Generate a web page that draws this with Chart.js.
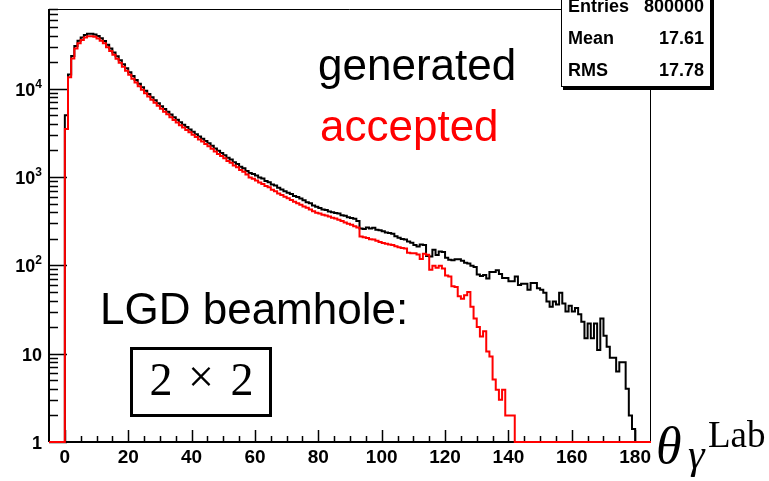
<!DOCTYPE html>
<html>
<head>
<meta charset="utf-8">
<script src="https://cdn.jsdelivr.net/npm/chart.js@4/dist/chart.umd.min.js"></script>
<style>
  html, body { margin: 0; padding: 0; background: #fff; }
</style>
</head>
<body>
<canvas id="thetaLab" width="769" height="481"></canvas>
<script>
// histogram: 1 degree bins starting at 0
const binLow = 0;
const binWidth = 1;
const xMin = -5, xMax = 185;
const yMin = 1, yMax = 80000;

const generated = [
  5000, 14500, 23500, 30500, 35000, 38000, 40500, 42000, 42000, 41200,
  39500, 37300, 34800, 31500, 28500, 25800, 23300, 21000, 19000, 17100,
  15400, 13900, 12600, 11400, 10400, 9500, 8700, 8000, 7400, 6850,
  6350, 5900, 5500, 5100, 4750, 4450, 4170, 3920, 3680, 3460,
  3250, 3060, 2880, 2720, 2560, 2420, 2260, 2110, 1980, 1870,
  1770, 1650, 1580, 1470, 1410, 1310, 1260, 1170, 1110, 1080,
  1040, 990, 965, 905, 875, 825, 800, 755, 725, 690,
  665, 645, 610, 595, 570, 548, 520, 505, 478, 460,
  447, 430, 425, 408, 400, 392, 388, 370, 365, 350,
  344, 338, 318, 262, 258, 268, 262, 266, 254, 250,
  243, 236, 233, 228, 214, 206, 199, 196, 186, 180,
  170, 164, 172, 170, 128, 126, 150, 131, 144, 142,
  122, 116, 114, 117, 117, 113, 107, 105, 99, 96,
  79, 76, 78, 71, 84, 84, 88, 80, 72, 72,
  66, 66, 75, 60, 62, 62, 53, 63, 63, 55,
  53, 49, 39, 34, 39, 36, 49, 37, 30, 35,
  30, 33, 28, 23, 15, 22, 15, 22, 11, 25,
  16, 12, 9, 9, 6.3, 8, 8, 4, 2, 1.4
];

const accepted = [
  3500, 13500, 22000, 28600, 32800, 35600, 38000, 39400, 39400, 38700,
  37100, 35000, 32700, 29600, 26800, 24200, 21900, 19700, 17800, 16000,
  14400, 13000, 11800, 10700, 9750, 8900, 8150, 7500, 6930, 6400,
  5930, 5500, 5130, 4750, 4420, 4140, 3870, 3640, 3420, 3210,
  3020, 2840, 2670, 2520, 2370, 2240, 2090, 1950, 1830, 1730,
  1630, 1520, 1450, 1350, 1290, 1200, 1150, 1070, 990, 955,
  915, 870, 835, 790, 765, 720, 690, 650, 625, 600,
  575, 550, 525, 505, 487, 465, 448, 428, 410, 395,
  388, 375, 368, 358, 346, 340, 328, 318, 305, 296,
  289, 278, 268, 212, 208, 204, 198, 196, 190, 184,
  179, 176, 172, 170, 165, 160, 157, 155, 139, 137,
  137, 133, 118, 135, 132, 89, 99, 94, 99, 92,
  77, 75, 58, 57, 44.6, 42, 46, 50, 34, 25,
  20, 15.7, 18, 10.6, 9.3, 5.1, 3.9, 3.0, 3.9, 2,
  2, 2, 0, 0, 0, 0, 0, 0, 0, 0,
  0, 0, 0, 0, 0, 0, 0, 0, 0, 0,
  0, 0, 0, 0, 0, 0, 0, 0, 0, 0,
  0, 0, 0, 0, 0, 0, 0, 0, 0, 0
];

const xTicks = [0, 20, 40, 60, 80, 100, 120, 140, 160, 180];
const yTicks = [1, 10, 100, 1000, 10000];
const yTickLabels = [['1', ''], ['10', ''], ['10', '2'], ['10', '3'], ['10', '4']];
const statNames = ['Entries', 'Mean', 'RMS'];
const statValues = ['800000', '17.61', '17.78'];

// bin contents -> step points (empty bins sit on the axis minimum)
function histPoints(vals) {
  const pts = [{ x: xMin, y: yMin }];
  vals.forEach((v, i) => pts.push({ x: binLow + i * binWidth, y: v > yMin ? v : yMin }));
  pts.push({ x: binLow + vals.length * binWidth, y: yMin });
  pts.push({ x: xMax, y: yMin });
  return pts;
}

const FONT = '"Liberation Sans", Arial, Helvetica, sans-serif';
const SERIF = '"Liberation Serif", "Times New Roman", serif';

const rootFrame = {
  id: 'rootFrame',
  // frame and ticks go under the histograms
  beforeDatasetsDraw(chart) {
    const { ctx, chartArea: a, scales: { x, y } } = chart;
    ctx.save();
    ctx.strokeStyle = '#000';

    ctx.lineWidth = 1;
    ctx.beginPath();
    ctx.moveTo(a.left, a.top + 0.5);
    ctx.lineTo(a.right - 0.5, a.top + 0.5);
    ctx.lineTo(a.right - 0.5, a.bottom);
    ctx.stroke();

    ctx.lineWidth = 2;
    ctx.beginPath();
    ctx.moveTo(a.left, a.top);
    ctx.lineTo(a.left, a.bottom);
    ctx.moveTo(a.left, a.bottom);
    ctx.lineTo(a.right, a.bottom);
    ctx.stroke();

    // y ticks (log)
    ctx.lineWidth = 1.5;
    ctx.beginPath();
    for (let d = 1; d <= yMax; d *= 10) {
      for (let m = 1; m <= 9; m++) {
        const v = d * m;
        if (v > yMax) break;
        const py = Math.round(y.getPixelForValue(v)) + 0.5;
        const len = m === 1 ? 18 : 9;
        ctx.moveTo(a.left, py);
        ctx.lineTo(a.left + len, py);
      }
    }
    ctx.stroke();

    // x ticks
    ctx.beginPath();
    for (let v = 0; v < xMax; v += 5) {
      const px = Math.round(x.getPixelForValue(v)) + 0.5;
      const len = v % 20 === 0 ? 12 : 6;
      ctx.moveTo(px, a.bottom);
      ctx.lineTo(px, a.bottom - len);
    }
    ctx.stroke();
    ctx.restore();
  },
  afterDraw(chart) {
    const { ctx, scales: { x, y } } = chart;
    ctx.save();
    ctx.fillStyle = '#000';
    ctx.strokeStyle = '#000';

    // x labels
    ctx.font = 'bold 19px ' + FONT;
    ctx.textAlign = 'center';
    ctx.textBaseline = 'alphabetic';
    xTicks.forEach(v => ctx.fillText(String(v), x.getPixelForValue(v), 463));

    // y labels with superscripts
    yTicks.forEach((v, i) => {
      const [base, exp] = yTickLabels[i];
      const py = y.getPixelForValue(v);
      ctx.font = 'bold 12px ' + FONT;
      const ew = exp ? ctx.measureText(exp).width : 0;
      ctx.textAlign = 'left';
      if (exp) ctx.fillText(exp, 42 - ew, py - 1);
      ctx.font = 'bold 18px ' + FONT;
      ctx.textAlign = 'right';
      ctx.fillText(base, 42 - ew, py + 7);
    });

    // annotations
    ctx.textAlign = 'left';
    ctx.font = '44px ' + FONT;
    ctx.fillText('generated', 318, 80);
    ctx.fillStyle = '#ff0000';
    ctx.fillText('accepted', 320, 141);
    ctx.fillStyle = '#000';
    ctx.fillText('LGD beamhole:', 100, 324);

    ctx.lineWidth = 3;
    ctx.strokeRect(131.5, 348.5, 139, 67);
    ctx.font = '46px ' + SERIF;
    ctx.textAlign = 'center';
    ctx.fillText('2', 161, 395);
    ctx.fillText('\u00d7', 201, 392);
    ctx.fillText('2', 242, 395);

    // axis title theta_gamma^Lab
    ctx.textAlign = 'left';
    ctx.font = 'italic 52px ' + SERIF;
    ctx.fillText('\u03b8', 656, 463);
    ctx.font = 'italic 42px ' + SERIF;
    ctx.fillText('\u03b3', 688, 468);
    ctx.font = '37px ' + SERIF;
    ctx.fillText('Lab', 708, 447);

    // stat box
    const bx = 561, by = -2, bw = 150, bh = 89;
    ctx.fillStyle = '#000';
    ctx.fillRect(bx + 2, by + 2, bw + 1, bh + 1);
    ctx.fillStyle = '#fff';
    ctx.fillRect(bx, by, bw, bh);
    ctx.lineWidth = 1;
    ctx.strokeRect(bx + 0.5, by + 0.5, bw - 1, bh - 1);
    ctx.fillStyle = '#000';
    ctx.font = 'bold 18px ' + FONT;
    statNames.forEach((n, i) => {
      const base = 12 + i * 32;
      ctx.textAlign = 'left';
      ctx.fillText(n, 568, base);
      ctx.textAlign = 'right';
      ctx.fillText(statValues[i], 704, base);
    });
    ctx.restore();
  }
};

new Chart(document.getElementById('thetaLab').getContext('2d'), {
  type: 'line',
  data: {
    datasets: [
      {
        label: 'accepted',
        data: histPoints(accepted),
        borderColor: '#ff0000',
        borderWidth: 2,
        stepped: 'before',
        pointRadius: 0,
        fill: false,
        clip: false
      },
      {
        label: 'generated',
        data: histPoints(generated),
        borderColor: '#000000',
        borderWidth: 2,
        stepped: 'before',
        pointRadius: 0,
        fill: false,
        clip: false
      }
    ]
  },
  options: {
    responsive: false,
    devicePixelRatio: 1,
    animation: false,
    layout: { padding: { left: 49, right: 118, top: 9, bottom: 39 } },
    scales: {
      x: { type: 'linear', min: xMin, max: xMax, display: false },
      y: { type: 'logarithmic', min: yMin, max: yMax, display: false }
    },
    plugins: {
      legend: { display: false },
      tooltip: { enabled: false }
    }
  },
  plugins: [rootFrame]
});
</script>
</body>
</html>
